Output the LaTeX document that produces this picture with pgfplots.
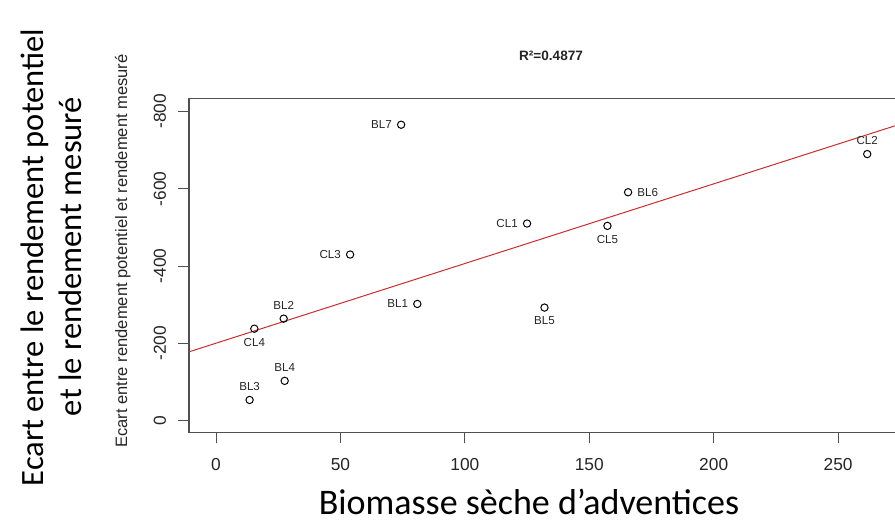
\documentclass[border=0pt]{standalone}
\usepackage{pgfplots}
\pgfplotsset{compat=1.18}
\usepackage{fontspec}
\setmainfont{Liberation Sans}
\newfontfamily\calibri{Carlito}

\definecolor{fitred}{RGB}{205,45,45}
\definecolor{framegray}{RGB}{80,80,80}

\begin{document}
\begin{tikzpicture}
\useasboundingbox (0,0) rectangle (671.25pt,389.25pt);
\clip (0,0) rectangle (671.25pt,389.25pt);
\fill[white] (0,0) rectangle (671.25pt,389.25pt);
\begin{axis}[
  at={(141.75pt,64.725pt)}, anchor=south west,
  scale only axis, width=543pt, height=250.5pt,
  xmin=-10.85, xmax=280.1,
  ymin=-832.9, ymax=31.1, y dir=reverse,
  axis line style={framegray, line width=0.9pt},
  tick align=outside, xtick pos=bottom, ytick pos=left,
  major tick length=8pt,
  tick style={framegray, line width=0.75pt},
  xtick={0,50,100,150,200,250},
  xticklabels={0,50,100,150,200,250},
  ytick={0,-200,-400,-600,-800},
  yticklabels={0,-200,-400,-600,-800},
  xticklabel style={font=\fontsize{13}{15}\selectfont, anchor=center, yshift=-16.2pt, text=black!85},
  yticklabel style={font=\fontsize{13}{15}\selectfont, anchor=center, xshift=-13.75pt, rotate=90, text=black!85},
  clip=false,
]
% yield gap against dry weed biomass, one row per plot
\addplot[
  only marks, mark=o, mark size=2.75pt,
  mark options={black, line width=0.75pt},
  point meta=explicit symbolic,
  visualization depends on={value \thisrow{pos}\as\labelpos},
  nodes near coords,
  nodes near coords style={font=\fontsize{8.7}{10}\selectfont, text=black!85,
    inner sep=0pt, outer sep=7pt, anchor=\labelpos},
] table[x=x, y=y, meta=name] {
name x     y      pos
BL7  74.4  -765.6 east
CL1  125.0 -510.0 east
CL3  53.9  -429.8 east
BL1  80.9  -302.0 east
BL2  27.2  -264.0 south
CL4  15.4  -238.0 north
BL4  27.6  -103.0 south
BL3  13.5  -53.6  south
BL6  165.6 -591.0 west
CL5  157.3 -504.0 north
BL5  132.0 -292.6 north
CL2  261.7 -689.7 south
};
% least-squares fit drawn across the whole plotting region
\addplot[fitred, line width=0.75pt] coordinates {(-10.85,-178.1) (280.1,-777.7)};
\end{axis}

\node[font=\bfseries\fontsize{10.2}{12}\selectfont, text=black!85] at (413.25pt,347.5pt) {R²=0.4877};
\node[rotate=90, anchor=base, font=\fontsize{12.4}{14}\selectfont, text=black!85] at (95.25pt,201pt)
  {Ecart entre rendement potentiel et rendement mesuré};
\node[rotate=90, anchor=base, font=\calibri\fontsize{24.4}{29}\selectfont] at (32.5pt,196.1pt)
  {Ecart entre le rendement potentiel};
\node[rotate=90, anchor=base, font=\calibri\fontsize{24.4}{29}\selectfont] at (61.3pt,196.9pt)
  {et le rendement mesuré};
\node[anchor=base, inner sep=0pt, font=\calibri\fontsize{27}{32}\selectfont] at (396.75pt,3.3pt)
  {Biomasse sèche d’adventices};
\end{tikzpicture}
\end{document}
